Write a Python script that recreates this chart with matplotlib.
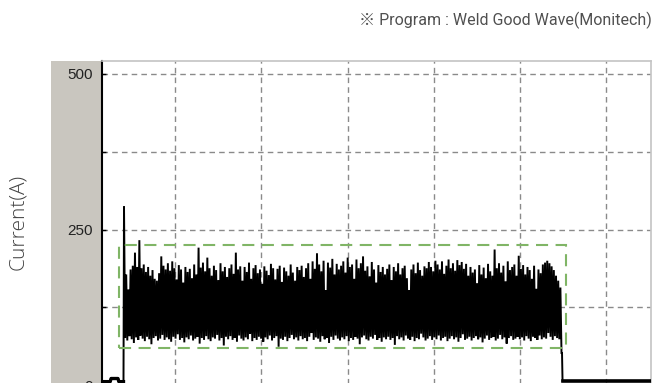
import numpy as np
import matplotlib.pyplot as plt
from matplotlib.patches import Rectangle

# ---- welding current record (A) ----
# idle level before the arc strikes
lead_t = [0.15, 0.25, 0.26, 0.34, 0.35, 0.404]
lead_i = [6, 6, 11, 11, 6, 6]

# arc period: upper and lower peak of each current pulse
peak_hi = [
    287, 178, 154, 186, 192, 213, 190, 233, 188, 194, 182, 190, 176, 185, 171, 168, 180, 207, 192, 186,
    196, 184, 199, 188, 170, 193, 186, 165, 190, 182, 187, 172, 194, 178, 221, 189, 197, 183, 205, 188,
    176, 192, 185, 169, 196, 183, 190, 174, 188, 194, 179, 213, 186, 191, 168, 190, 182, 197, 171, 188,
    193, 180, 186, 163, 191, 184, 177, 195, 188, 170, 187, 192, 166, 189, 183, 176, 194, 181, 168, 190,
    185, 192, 174, 188, 196, 171, 199, 187, 212, 194, 183, 200, 153, 197, 189, 203, 178, 195, 186, 192,
    199, 181, 205, 190, 194, 171, 202, 188, 196, 207, 184, 191, 175, 198, 186, 165, 193, 182, 190, 178,
    187, 194, 169, 190, 183, 196, 178, 188, 192, 172, 153, 186, 194, 180, 197, 185, 176, 191, 188, 198,
    190, 183, 200, 194, 186, 199, 179, 192, 202, 188, 196, 184, 201, 193, 198, 187, 195, 176, 190, 181,
    186, 164, 193, 178, 189, 172, 195, 183, 176, 218, 188, 196, 181, 192, 167, 199, 185, 190, 194, 176,
    208, 187, 193, 178, 190, 185, 171, 192, 155, 186, 180, 194, 197, 200, 196, 191, 185, 176, 168, 157,
]
peak_lo = [
    76, 72, 79, 74, 68, 77, 73, 80, 75, 71, 78, 74, 66, 76, 79, 72, 75, 81, 73, 77,
    74, 70, 78, 75, 82, 73, 76, 69, 77, 74, 80, 72, 75, 78, 67, 76, 73, 79, 74, 71,
    77, 75, 81, 72, 76, 64, 78, 74, 79, 73, 76, 70, 80, 75, 72, 77, 74, 83, 71, 76,
    73, 78, 75, 70, 77, 74, 80, 72, 76, 79, 62, 75, 73, 78, 71, 76, 81, 74, 77, 72,
    79, 74, 76, 71, 78, 84, 73, 77, 75, 70, 79, 74, 76, 68, 78, 73, 80, 75, 72, 77,
    74, 79, 71, 76, 73, 78, 75, 66, 77, 80, 74, 72, 78, 75, 81, 73, 76, 70, 77, 74,
    78, 73, 76, 65, 79, 74, 77, 72, 80, 75, 73, 78, 71, 76, 74, 83, 77, 72, 75, 79,
    73, 77, 74, 80, 72, 76, 78, 71, 75, 79, 74, 77, 70, 76, 82, 73, 75, 78, 72, 76,
    79, 74, 77, 69, 75, 80, 73, 76, 78, 72, 75, 81, 74, 77, 67, 76, 79, 73, 75, 78,
    74, 77, 72, 79, 75, 71, 78, 76, 73, 80, 74, 77, 75, 84, 78, 73, 79, 76, 74, 52,
]
arc_start, arc_end = 0.41, 5.479

# idle level after the arc ends
trail_t = [5.485, 5.491, 6.6]
trail_i = [52, 7, 7]

# good-weld band
band_t = (0.352, 5.533)
band_i = (60, 225)

y_ticks = [0, 125, 250, 375, 500]
y_labels = ['0', '', '250', '', '500']
x_grid = [1, 2, 3, 4, 5, 6]

# ---- figure ----
W, H = 656, 383
fig = plt.figure(figsize=(W / 100, H / 100), dpi=100)

# plot box: left spine at x=102, top at y=61, right at x=651
ylo, yhi = -10, 520.5
px_per_amp = 0.6232
top_px = 61
bot_px = top_px + (yhi - ylo) * px_per_amp
ax = fig.add_axes([102 / W, 1 - bot_px / H, (651 - 102) / W, (bot_px - top_px) / H])
ax.set_zorder(1)

# grey strip behind the tick labels
fig.patches.append(Rectangle((51 / W, -0.1), 50 / W, 0.1 + 1 - top_px / H,
                             transform=fig.transFigure, facecolor='#c9c6bf',
                             edgecolor='none', zorder=-1))

n = len(peak_hi)
t_arc = np.linspace(arc_start, arc_end, 2 * n)
wave = np.empty(2 * n)
wave[0::2] = peak_hi
wave[1::2] = peak_lo

t_all = np.concatenate([lead_t, t_arc, trail_t])
i_all = np.concatenate([lead_i, wave, trail_i])
ax.plot(t_all, i_all, color='black', lw=1.4, solid_joinstyle='miter', zorder=3)
ax.plot(lead_t, lead_i, color='black', lw=2.4, zorder=3)
ax.plot(trail_t[1:], trail_i[1:], color='black', lw=2.6, zorder=3)

ax.add_patch(Rectangle((band_t[0], band_i[0]), band_t[1] - band_t[0], band_i[1] - band_i[0],
                       fill=False, edgecolor='#80b566', lw=1.5,
                       linestyle=(0, (5.8, 3.6)), zorder=4))

ax.set_xlim(0.155, 6.516)
ax.set_ylim(ylo, yhi)
ax.set_yticks(y_ticks)
ax.set_yticklabels(y_labels, fontsize=11, color='#222222', family='Liberation Sans')
ax.set_xticks(x_grid)
ax.tick_params(axis='x', length=0, labelbottom=False)
ax.tick_params(axis='y', direction='in', length=3, width=1, pad=6.5, color='black')
ax.grid(True, color='#8a8a8a', lw=1, linestyle=(0, (4, 3)))
ax.set_axisbelow(True)

ax.spines['left'].set_color('black')
ax.spines['left'].set_linewidth(1.5)
for s in ('top', 'right'):
    ax.spines[s].set_color('#c4c4c4')
    ax.spines[s].set_linewidth(1.2)
ax.spines['bottom'].set_visible(False)

fig.text(18.5 / W, 1 - 222 / H, 'Current(A)', rotation=90, ha='center', va='center',
         fontsize=15, color='#444444', family='Open Sans', weight='light')
fig.text(652 / W, 1 - 20 / H, '※ Program : Weld Good Wave(Monitech)', ha='right', va='center',
         fontsize=11.5, color='#505050',
         family=['Roboto', 'Noto Sans CJK JP', 'DejaVu Sans'])

fig.savefig('out.png', dpi=100)
